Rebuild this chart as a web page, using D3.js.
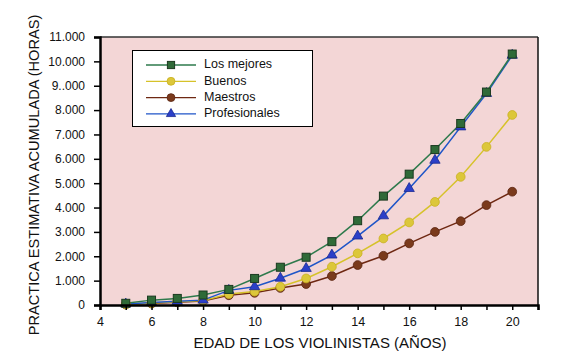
<!DOCTYPE html>
<html><head><meta charset="utf-8">
<script src="https://cdn.jsdelivr.net/npm/d3@7"></script>
<style>
html,body{margin:0;padding:0;background:#fff;}
svg{display:block;}
text{font-family:"Liberation Sans",Arial,sans-serif;fill:#111;}
</style></head>
<body>
<svg id="chart" width="562" height="364"></svg>
<script>
const ages = [5,6,7,8,9,10,11,12,13,14,15,16,17,18,19,20];
const losMejores    = [70,200,270,410,640,1090,1550,1960,2600,3460,4470,5370,6380,7450,8740,10300];
const buenos        = [30,80,130,180,450,550,750,1090,1570,2120,2730,3390,4230,5260,6490,7800];
const maestros      = [20,60,110,160,400,500,700,860,1190,1640,2020,2530,3000,3440,4100,4650];
const profesionales = [40,100,150,200,600,750,1100,1500,2050,2830,3660,4780,5940,7310,8680,10250];
const seriesNames = ["Los mejores","Buenos","Maestros","Profesionales"];
const yTickValues = [0,1000,2000,3000,4000,5000,6000,7000,8000,9000,10000,11000];
const yTickLabels = ["0","1.000","2.000","3.000","4.000","5.000","6.000","7.000","8.000","9..000","10.000","11.000"];
const xTickLabels = ["4","6","8","10","12","14","16","18","20"];
const xTitle = "EDAD DE LOS VIOLINISTAS (AÑOS)";
const yTitle = "PRACTICA ESTIMATIVA ACUMULADA (HORAS)";

const svg = d3.select("#chart");
const L=100, R=538, T=37, B=305;
const x = d3.scaleLinear().domain([4,21]).range([L,R]);
const y = d3.scaleLinear().domain([0,11000]).range([B,T]);

svg.append("rect").attr("x",L).attr("y",T).attr("width",R-L).attr("height",B-T).attr("fill","#f3d6d6");

const styles = {
  "Los mejores":  {line:"#2e7a4c", fill:"#2f6a38", stroke:"#1b3a20", shape:"square", data:losMejores},
  "Buenos":       {line:"#d6c22a", fill:"#dcc73a", stroke:"#c9b020", shape:"circle", data:buenos},
  "Maestros":     {line:"#6e2812", fill:"#7a3a1c", stroke:"#5a2410", shape:"circle", data:maestros},
  "Profesionales":{line:"#1f55c8", fill:"#2b3fc8", stroke:"#1a2a90", shape:"triangle", data:profesionales}
};

const drawOrder = ["Maestros","Buenos","Profesionales","Los mejores"];
const lineGen = d3.line().x(d=>x(d[0])).y(d=>y(d[1]));

function marker(g, shape, st, cx, cy, k){
  k = k || 1;
  if(shape==="square"){
    const s = 8*k;
    g.append("rect").attr("x",cx-s/2).attr("y",cy-s/2).attr("width",s).attr("height",s)
      .attr("fill",st.fill).attr("stroke",st.stroke).attr("stroke-width",1);
  } else if(shape==="circle"){
    g.append("circle").attr("cx",cx).attr("cy",cy).attr("r",4.4*k)
      .attr("fill",st.fill).attr("stroke",st.stroke).attr("stroke-width",0.8);
  } else {
    g.append("path").attr("d",d3.symbol().type(d3.symbolTriangle).size(46*k*k)())
      .attr("transform",`translate(${cx},${cy})`)
      .attr("fill",st.fill).attr("stroke",st.stroke).attr("stroke-width",0.8);
  }
}

const plot = svg.append("g");
drawOrder.forEach(name=>{
  const st = styles[name];
  const pts = ages.map((a,i)=>[a, st.data[i]]);
  plot.append("path").attr("d",lineGen(pts)).attr("fill","none").attr("stroke",st.line).attr("stroke-width",1.5);
});
drawOrder.forEach(name=>{
  const st = styles[name];
  ages.forEach((a,i)=>marker(plot, st.shape, st, x(a), y(st.data[i])));
});

svg.append("line").attr("x1",L).attr("x2",R).attr("y1",T).attr("y2",T).attr("stroke","#333").attr("stroke-width",1.5);
svg.append("line").attr("x1",R).attr("x2",R).attr("y1",T).attr("y2",B).attr("stroke","#111").attr("stroke-width",1.5);

const yAxis = d3.axisLeft(y).tickValues(yTickValues).tickFormat((d,i)=>yTickLabels[i]).tickSizeOuter(0).tickSize(6).tickPadding(9);
const gy = svg.append("g").attr("transform",`translate(${L},0)`).call(yAxis);
gy.select(".domain").attr("stroke","#000").attr("stroke-width",2.5);
gy.selectAll(".tick line").attr("stroke","#000").attr("stroke-width",1.5);
gy.selectAll(".tick text").attr("font-family","Liberation Sans, Arial, sans-serif").attr("font-size",12).attr("fill","#111");

const xAxis = d3.axisBottom(x).tickValues(d3.range(4,22)).tickFormat(d=> (d%2===0 && d<=20) ? xTickLabels[(d-4)/2] : "").tickSizeOuter(0).tickSize(5).tickPadding(7);
const gx = svg.append("g").attr("transform",`translate(0,${B})`).call(xAxis);
gx.select(".domain").attr("stroke","#000").attr("stroke-width",2.5);
gx.selectAll(".tick line").attr("stroke","#000").attr("stroke-width",1.5);
gx.selectAll(".tick text").attr("font-family","Liberation Sans, Arial, sans-serif").attr("font-size",12.5).attr("fill","#111");

svg.append("text").attr("x",320).attr("y",348).attr("text-anchor","middle").attr("font-size",15).text(xTitle);
svg.append("text").attr("transform","translate(39,175) rotate(-90)").attr("text-anchor","middle").attr("font-size",14.6).text(yTitle);

const lg = svg.append("g");
lg.append("rect").attr("x",132.5).attr("y",50.5).attr("width",180).attr("height",76).attr("fill","#fff").attr("stroke","#000").attr("stroke-width",1);
seriesNames.forEach((name,i)=>{
  const st = styles[name];
  const cy = 65 + i*16.3;
  lg.append("line").attr("x1",146).attr("x2",196).attr("y1",cy).attr("y2",cy).attr("stroke",st.line).attr("stroke-width",1.3);
  marker(lg, st.shape, st, 171, cy, 0.9);
  lg.append("text").attr("x",204).attr("y",cy-1).attr("dy","0.35em").attr("font-size",12.5).text(name);
});
</script>
</body></html>
